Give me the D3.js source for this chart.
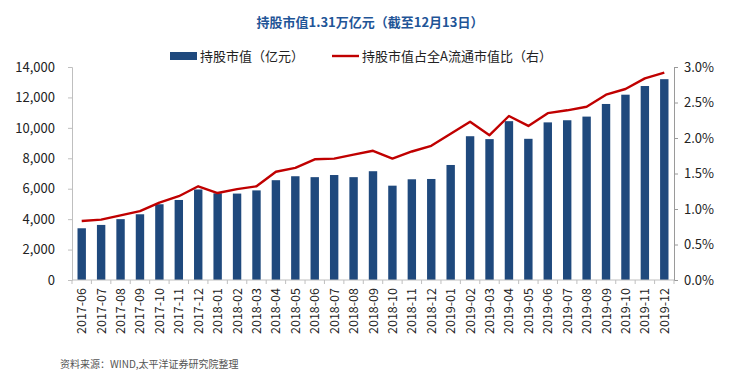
<!DOCTYPE html>
<html><head><meta charset="utf-8">
<script src="https://cdn.jsdelivr.net/npm/d3@7"></script>
<style>
body{margin:0;background:#fff;}
text{font-family:"Noto Sans CJK SC","Microsoft YaHei",sans-serif;}
</style></head>
<body><svg id="c" width="734" height="382"></svg>
<script>
const categories = ["2017-06","2017-07","2017-08","2017-09","2017-10","2017-11","2017-12",
"2018-01","2018-02","2018-03","2018-04","2018-05","2018-06","2018-07","2018-08","2018-09","2018-10","2018-11","2018-12",
"2019-01","2019-02","2019-03","2019-04","2019-05","2019-06","2019-07","2019-08","2019-09","2019-10","2019-11","2019-12"];
const holdingValue = [3400,3620,4000,4320,4980,5260,5950,5700,5680,5890,6560,6820,6760,6900,6760,7150,6200,6620,6640,7560,9450,9260,10440,9280,10360,10500,10740,11570,12180,12750,13200];
const holdingRatio = [0.83,0.85,0.91,0.97,1.09,1.18,1.32,1.225,1.28,1.32,1.525,1.58,1.70,1.71,1.765,1.82,1.71,1.81,1.89,2.06,2.23,2.04,2.31,2.17,2.35,2.39,2.44,2.61,2.69,2.84,2.92];
const leftTicks = [0,2000,4000,6000,8000,10000,12000,14000];
const rightTicks = [0,0.5,1.0,1.5,2.0,2.5,3.0];
const titleText = "持股市值1.31万亿元（截至12月13日）";
const legendBar = "持股市值（亿元）";
const legendLine = "持股市值占全A流通市值比（右）";
const sourceText = "资料来源：WIND,太平洋证券研究院整理";

const svg = d3.select("#c");
const L = 72, R = 674, T = 67, B = 280;
const x = d3.scaleBand().domain(categories).range([L, R]).paddingInner(0.58).paddingOuter(0.29);
const xb = d3.scaleBand().domain(categories).range([L, R]);
const y = d3.scaleLinear().domain([0, 14000]).range([B, T]);
const y2 = d3.scaleLinear().domain([0, 3]).range([B, T]);
const barColor = "#1F497D", lineColor = "#C00000", axisColor = "#BFBFBF";

// bars
svg.append("g").selectAll("rect").data(holdingValue).join("rect")
  .attr("x", (d,i)=>xb(categories[i]) + xb.bandwidth()/2 - 4.2)
  .attr("width", 8.4)
  .attr("y", d=>y(d)).attr("height", d=>B - y(d))
  .attr("fill", barColor);

// line
svg.append("path").datum(holdingRatio)
  .attr("d", d3.line().x((d,i)=>xb(categories[i]) + xb.bandwidth()/2).y(d=>y2(d)))
  .attr("fill","none").attr("stroke",lineColor).attr("stroke-width",2.4).attr("stroke-linejoin","round");

// left axis
const gl = svg.append("g").attr("transform",`translate(${L},0)`)
  .call(d3.axisLeft(y).tickValues(leftTicks).tickFormat(d3.format(",")).tickSize(4).tickPadding(13));
gl.select(".domain").attr("stroke",axisColor);
gl.selectAll(".tick line").attr("stroke",axisColor);
gl.selectAll("text").attr("font-size",13).attr("fill","#222");

// right axis
const gr = svg.append("g").attr("transform",`translate(${R},0)`)
  .call(d3.axisRight(y2).tickValues(rightTicks).tickFormat(d=>d.toFixed(1)+"%").tickSize(4).tickPadding(6));
gr.select(".domain").attr("stroke","#9a9a9a");
gr.selectAll(".tick line").attr("stroke","#9a9a9a");
gr.selectAll("text").attr("font-size",13).attr("fill","#222");

// x axis
const gx = svg.append("g").attr("transform",`translate(0,${B})`);
gx.append("line").attr("x1",L).attr("x2",R).attr("stroke",axisColor);
gx.selectAll("line.t").data(categories.concat([null])).join("line").attr("class","t")
  .attr("x1",(d,i)=>L + i*xb.step()).attr("x2",(d,i)=>L + i*xb.step())
  .attr("y1",0).attr("y2",4).attr("stroke",axisColor);
gx.selectAll("text").data(categories).join("text")
  .attr("transform",d=>`translate(${xb(d)+xb.bandwidth()/2+4.5},8) rotate(-90)`)
  .attr("text-anchor","end").attr("font-size",12.5).attr("fill","#222").text(d=>d);

// title
svg.append("text").attr("x",370).attr("y",27).attr("text-anchor","middle")
  .attr("font-size",13).attr("font-weight","bold").attr("fill","#1F5597").text(titleText);

// legend
svg.append("rect").attr("x",170).attr("y",52).attr("width",27).attr("height",8).attr("fill",barColor);
svg.append("text").attr("x",200).attr("y",61).attr("font-size",13).attr("fill","#222").text(legendBar);
svg.append("line").attr("x1",332).attr("x2",359).attr("y1",56).attr("y2",56).attr("stroke",lineColor).attr("stroke-width",2.4);
svg.append("text").attr("x",362).attr("y",61).attr("font-size",13).attr("fill","#222").text(legendLine);

// source
svg.append("text").attr("x",60).attr("y",368).attr("font-size",10).attr("fill","#555").text(sourceText);
</script></body></html>
